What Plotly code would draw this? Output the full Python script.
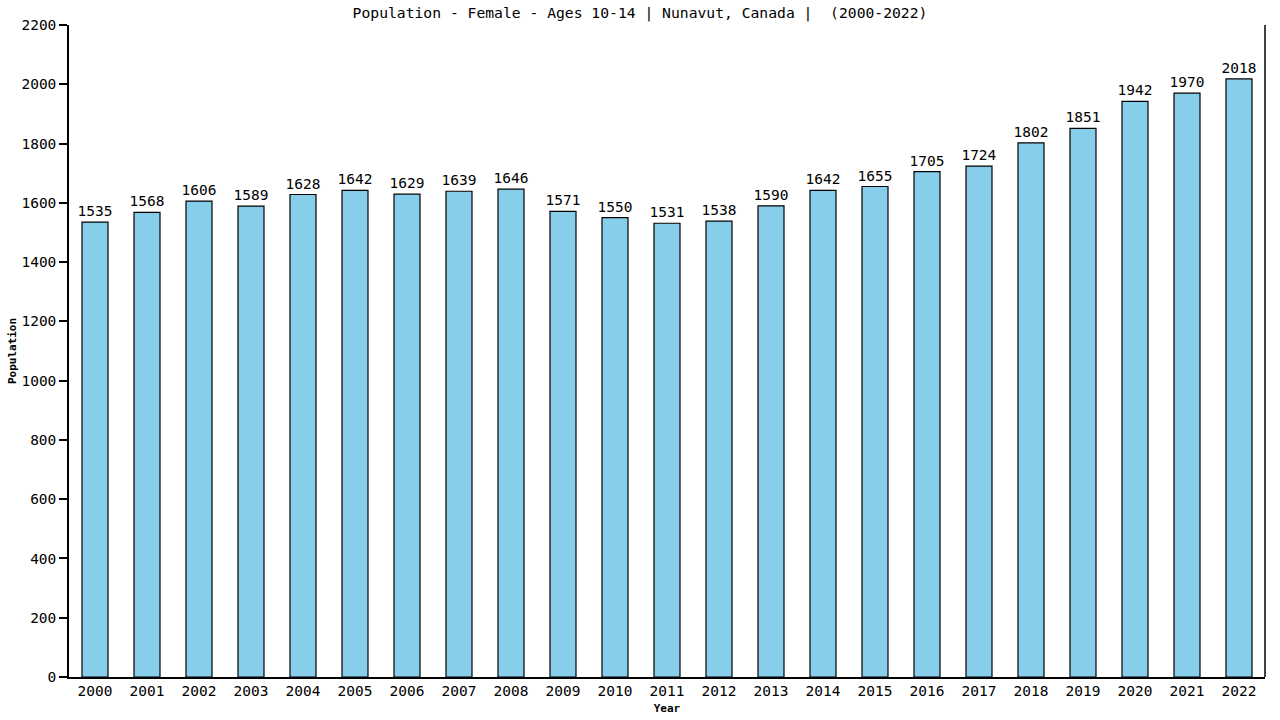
import plotly.graph_objects as go

# Nunavut female population, ages 10-14
years = [str(y) for y in range(2000, 2023)]
population = [1535, 1568, 1606, 1589, 1628, 1642, 1629, 1639, 1646, 1571, 1550, 1531,
              1538, 1590, 1642, 1655, 1705, 1724, 1802, 1851, 1942, 1970, 2018]
y_ticks = list(range(0, 2201, 200))

font_mono = "DejaVu Sans Mono"

fig = go.Figure()
fig.add_trace(go.Bar(
    x=years, y=population,
    marker_color="#87CEEB",
    marker_line=dict(color="black", width=1.2),
    width=0.5,
    text=population, textposition="outside", constraintext="none",
    textfont=dict(family=font_mono, size=14.5, color="black"),
    cliponaxis=False,
))

fig.update_layout(
    width=1280, height=720,
    paper_bgcolor="white", plot_bgcolor="white",
    margin=dict(l=69, r=15, t=25, b=43, pad=0),
    title=dict(text="Population - Female - Ages 10-14 | Nunavut, Canada |  (2000-2022)",
               x=0.5, xanchor="center", y=0.982, yanchor="middle",
               font=dict(family=font_mono, size=14.7, color="black")),
    font=dict(family=font_mono, size=14.5, color="black"),
    showlegend=False,
    bargap=0.5,
)
fig.update_xaxes(
    title=dict(text="<b>Year</b>", font=dict(family=font_mono, size=11), standoff=6),
    showline=True, linecolor="black", linewidth=1.5, mirror=False,
    ticks="", showgrid=False, automargin=False,
    tickfont=dict(family=font_mono, size=14.5),
)
fig.update_yaxes(
    title=dict(text="<b>Population</b>", font=dict(family=font_mono, size=11), standoff=3),
    range=[0, 2200], tickvals=y_ticks,
    showline=True, linecolor="black", linewidth=1.5,
    ticks="outside", ticklen=8, tickcolor="black", tickwidth=1.5,
    showgrid=False, zeroline=False, automargin=False,
    tickfont=dict(family=font_mono, size=14.5),
)
# right border line
fig.add_shape(type="line", xref="paper", yref="paper", x0=1, x1=1, y0=0, y1=1,
              line=dict(color="black", width=1.5))

# drop the browser's default body margin so the figure sits at the page corner
fig.write_html("out.html", config={"displayModeBar": False},
               post_script="document.body.style.margin='0';")
